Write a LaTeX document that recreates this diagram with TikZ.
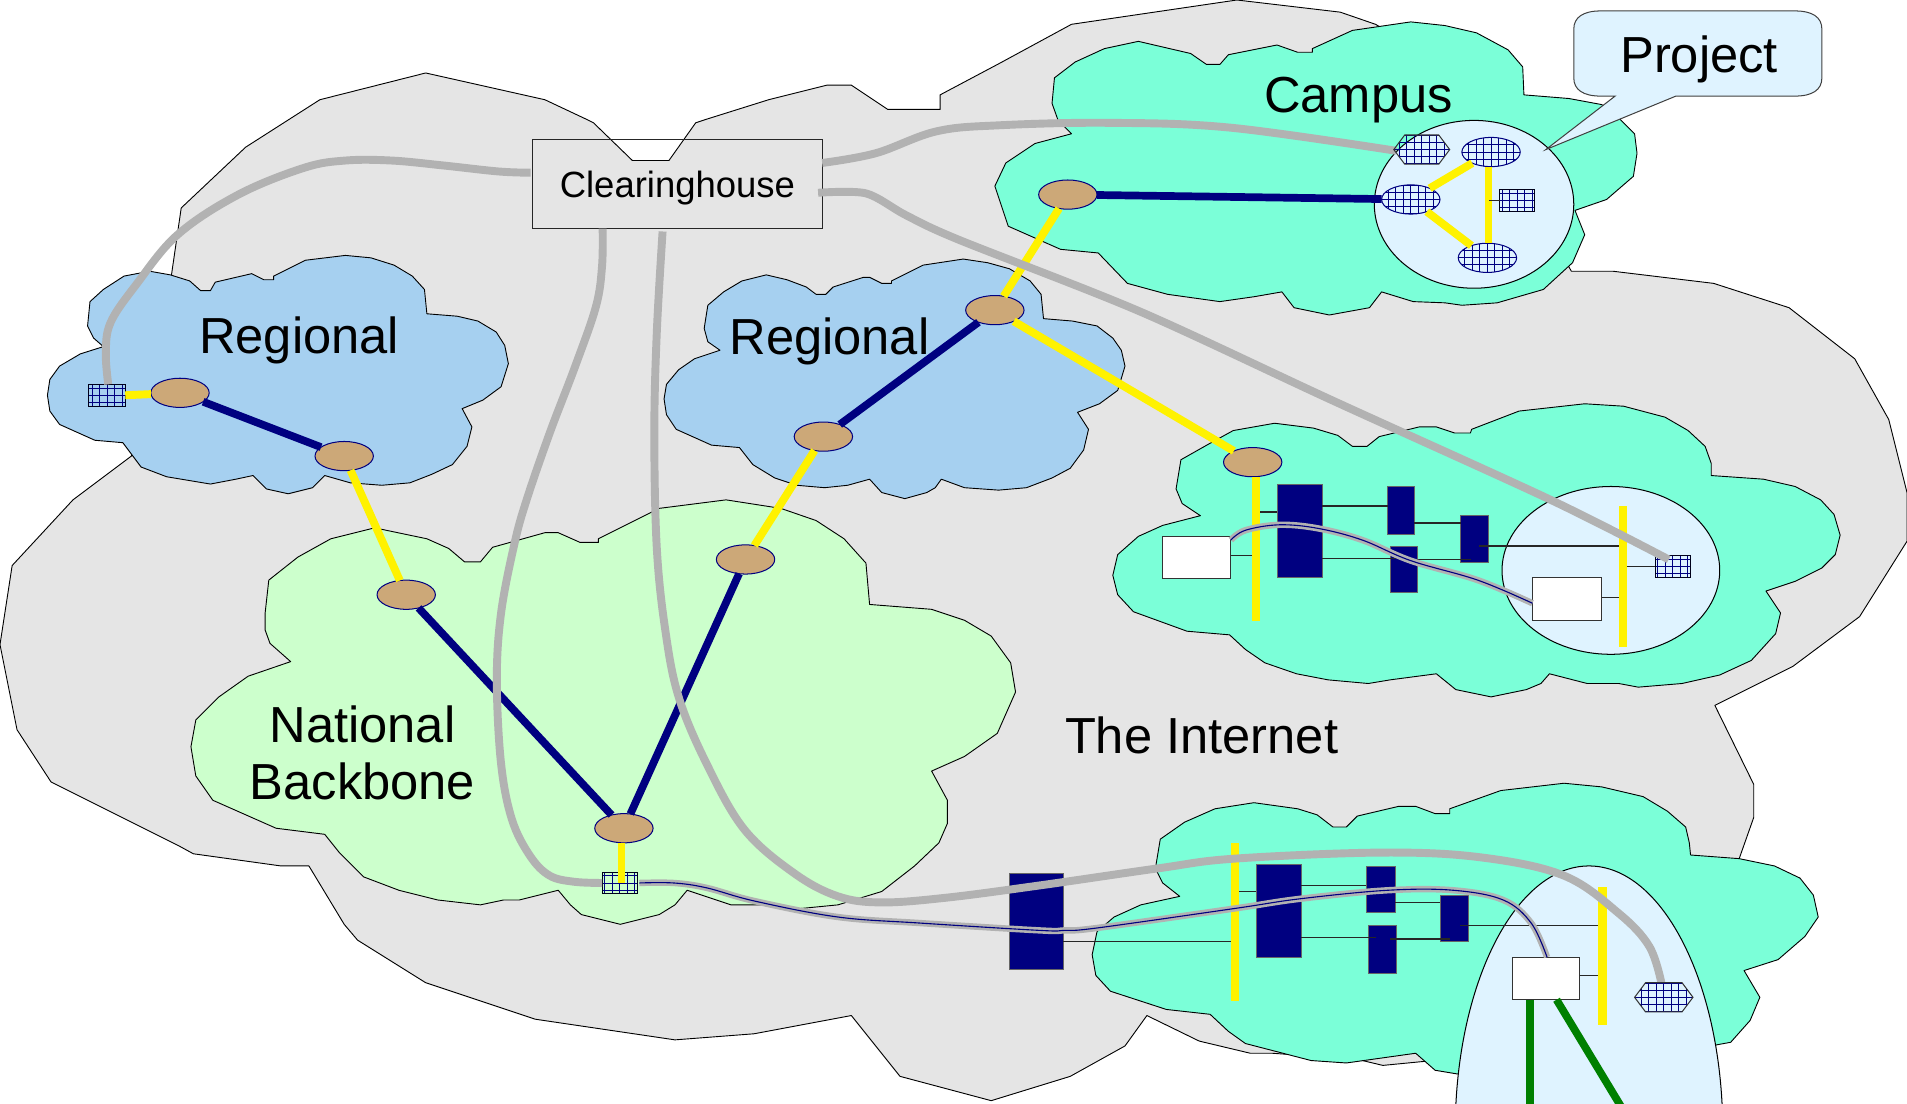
\documentclass[tikz,border=0pt]{standalone}
\usepackage{fontspec}
\setmainfont{Liberation Sans}
\definecolor{inetgray}{HTML}{E5E5E5}
\definecolor{campusgreen}{HTML}{7BFFD8}
\definecolor{regblue}{HTML}{A6D0F0}
\definecolor{natgreen}{HTML}{CCFFCC}
\definecolor{projblue}{HTML}{DFF3FF}
\definecolor{tan}{HTML}{CCA878}
\definecolor{navyc}{HTML}{000080}
\definecolor{wiregray}{HTML}{B2B2B2}
\definecolor{darkgreen}{HTML}{008000}
\tikzset{
  cloud outline/.style={draw=black,line width=0.45pt,line join=round},
  router/.style={shape=ellipse,draw=navyc,fill=tan,line width=0.5pt,minimum width=28.8pt,minimum height=14.4pt,inner sep=0pt,outer sep=0pt},
  gridfill/.style={path picture={
     \foreach \k in {-9,...,9}{
       \draw[navyc,line width=0.45pt] ([xshift=\k*3.7pt]path picture bounding box.center) ++(0,-20pt) -- ++(0,40pt);
       \draw[navyc,line width=0.45pt] ([yshift=\k*3.5pt]path picture bounding box.center) ++(-25pt,0) -- ++(50pt,0);
     }}},
  gridell/.style={shape=ellipse,draw=navyc,line width=0.5pt,minimum width=28.8pt,minimum height=14.4pt,inner sep=0pt,outer sep=0pt,gridfill},
  gridrect/.style={shape=rectangle,draw=black!80!navyc,line width=0.5pt,inner sep=0pt,outer sep=0pt,gridfill},
  navybox/.style={shape=rectangle,fill=navyc,draw=black!60,line width=0.3pt,inner sep=0pt,outer sep=0pt},
  whitebox/.style={shape=rectangle,fill=white,draw=black!80,line width=0.5pt,inner sep=0pt,outer sep=0pt},
  ybar/.style={shape=rectangle,fill=yellow,inner sep=0pt,outer sep=0pt},
  ylink/.style={draw=yellow,line width=3.9pt},
  nlink/.style={draw=navyc,line width=3.8pt},
  glink/.style={draw=darkgreen,line width=3.8pt},
  wire/.style={draw=wiregray,line width=3.9pt,line cap=butt},
  dualwire/.style={draw=wiregray,double=navyc,double distance=0.55pt,line width=1.3pt},
  thin link/.style={draw=black!85,line width=0.6pt},
  biglabel/.style={font=\fontsize{25}{28.2}\selectfont,align=center,inner sep=0pt},
}
\newcommand{\boxat}[6][navybox]{%
  \pgfmathsetmacro{\bxc}{(#3+#5)/2}\pgfmathsetmacro{\byc}{(#4+#6)/2}%
  \pgfmathsetmacro{\bxw}{(#5-#3)*0.6}\pgfmathsetmacro{\byh}{(#6-#4)*0.6}%
  \node[#1,minimum width=\bxw pt,minimum height=\byh pt] (#2) at (\bxc,\byc) {};}
\usetikzlibrary{shapes.geometric}
\begin{document}
\begin{tikzpicture}[x=0.6pt,y=-0.6pt]
\useasboundingbox (0,0) rectangle (1568,907);
% The Internet
\draw[cloud outline,fill=inetgray] (0,530) -- (10,465) -- (60,411) -- (108,375) -- (141,226) -- (149,171) -- (202,121) -- (263,82) -- (350,60) -- (448,82) -- (482,98) -- (488,101) -- (520,132) -- (550,132) -- (572,101) -- (581,98) -- (632,82) -- (680,70) -- (700,70) -- (730,90) -- (773,90) -- (773,78) -- (822,52) -- (881,20) -- (1017,0) -- (1102,10) -- (1131,20) -- (1200,60) -- (1292,223) -- (1326,223) -- (1409,233) -- (1471,253) -- (1525,295) -- (1553,345) -- (1568,405) -- (1568,445) -- (1529,507) -- (1474,548) -- (1410,580) -- (1442,645) -- (1442,672) -- (1430,706) -- (1400,800) -- (1200,870) -- (1168,873) -- (1137,876) -- (1116,871) -- (1046,866) -- (1028,866) -- (986,856) -- (943,835) -- (925,860) -- (880,885) -- (815,905) -- (740,885) -- (700,835) -- (620,850) -- (555,855) -- (440,838) -- (350,808) -- (294,773) -- (283,760) -- (254,712) -- (231,712) -- (159,702) -- (148,696) -- (42,643) -- (14,600) -- cycle;
% Regional clouds
\draw[cloud outline,fill=regblue] (74,248) -- (72,268) -- (77,278) -- (85,285) -- (66,291) -- (49,301) -- (41,312) -- (39,325) -- (41,338) -- (49,349) -- (78,362) -- (101,364) -- (116,384) -- (137,392) -- (173,398) -- (194,394) -- (208,391) -- (219,402) -- (237,406) -- (257,401) -- (267,391) -- (288,397) -- (314,399) -- (337,397) -- (355,390) -- (372,382) -- (384,367) -- (388,351) -- (380,336) -- (397,329) -- (412,318) -- (418,299) -- (415,284) -- (408,273) -- (393,264) -- (376,260) -- (351,258) -- (349,238) -- (339,227) -- (324,218) -- (305,212) -- (284,210) -- (251,214) -- (225,227) -- (225,230) -- (217,230) -- (207,225) -- (177,232) -- (173,239) -- (165,239) -- (156,231) -- (140,226) -- (123,223) -- (102,227) -- (85,238) -- cycle;
\draw[cloud outline,fill=regblue] (582,251) -- (579,270) -- (582,281) -- (592,288) -- (571,295) -- (558,304) -- (548,316) -- (546,328) -- (548,341) -- (556,353) -- (585,366) -- (608,368) -- (619,382) -- (637,393) -- (655,399) -- (678,401) -- (697,399) -- (715,394) -- (725,405) -- (744,410) -- (762,405) -- (769,401) -- (774,394) -- (793,401) -- (821,403) -- (844,401) -- (865,393) -- (880,385) -- (891,370) -- (895,353) -- (886,339) -- (904,332) -- (919,321) -- (925,301) -- (922,288) -- (915,278) -- (902,268) -- (882,264) -- (858,262) -- (856,242) -- (847,231) -- (830,221) -- (812,216) -- (792,213) -- (759,218) -- (733,231) -- (733,233) -- (725,233) -- (715,228) -- (710,228) -- (685,236) -- (679,242) -- (671,242) -- (663,236) -- (647,230) -- (630,226) -- (610,231) -- (595,240) -- cycle;
% National backbone
\draw[cloud outline,fill=natgreen] (221,477) -- (218,504) -- (218,518) -- (222,529) -- (239,544) -- (204,556) -- (180,573) -- (161,592) -- (157,614) -- (161,638) -- (175,658) -- (227,681) -- (267,686) -- (279,701) -- (299,721) -- (328,732) -- (360,740) -- (395,744) -- (414,740) -- (427,740) -- (459,732) -- (469,744) -- (478,752) -- (510,760) -- (542,752) -- (555,744) -- (565,732) -- (601,744) -- (626,744) -- (648,748) -- (689,744) -- (725,733) -- (752,712) -- (772,693) -- (779,677) -- (779,658) -- (766,634) -- (793,622) -- (820,603) -- (835,569) -- (831,545) -- (815,523) -- (793,510) -- (766,501) -- (715,497) -- (712,463) -- (694,443) -- (671,428) -- (642,418) -- (597,411) -- (542,418) -- (492,443) -- (492,446) -- (477,446) -- (459,438) -- (448,438) -- (405,450) -- (395,462) -- (382,462) -- (369,451) -- (351,443) -- (308,434) -- (272,443) -- (245,458) -- cycle;
% Campus clouds
\draw[cloud outline,fill=campusgreen] (867,64) -- (865,85) -- (870,99) -- (881,110) -- (851,118) -- (827,134) -- (818,153) -- (829,186) -- (872,205) -- (903,208) -- (927,233) -- (960,242) -- (1003,248) -- (1031,244) -- (1054,240) -- (1064,253) -- (1093,259) -- (1126,253) -- (1136,240) -- (1162,248) -- (1188,249) -- (1202,251) -- (1231,249) -- (1269,238) -- (1293,216) -- (1303,193) -- (1295,173) -- (1321,164) -- (1343,145) -- (1346,126) -- (1344,110) -- (1333,99) -- (1317,86) -- (1290,81) -- (1253,78) -- (1252,55) -- (1240,41) -- (1214,27) -- (1188,21) -- (1160,18) -- (1112,25) -- (1079,40) -- (1079,43) -- (1067,43) -- (1050,37) -- (1010,45) -- (1003,53) -- (992,53) -- (979,44) -- (936,34) -- (908,40) -- (884,51) -- cycle;
\draw[cloud outline,fill=campusgreen] (971,378) -- (967,402) -- (972,414) -- (987,424) -- (956,432) -- (936,441) -- (919,456) -- (915,473) -- (919,489) -- (932,503) -- (976,519) -- (1011,522) -- (1024,534) -- (1040,545) -- (1066,554) -- (1092,559) -- (1125,562) -- (1143,559) -- (1181,554) -- (1197,567) -- (1226,573) -- (1255,567) -- (1267,562) -- (1274,554) -- (1305,562) -- (1331,562) -- (1347,565) -- (1383,562) -- (1414,555) -- (1440,543) -- (1460,521) -- (1464,504) -- (1452,486) -- (1476,478) -- (1498,467) -- (1509,456) -- (1513,440) -- (1508,423) -- (1497,411) -- (1476,400) -- (1450,394) -- (1407,391) -- (1407,381) -- (1402,367) -- (1388,354) -- (1369,343) -- (1335,334) -- (1303,332) -- (1249,338) -- (1210,353) -- (1209,356) -- (1196,356) -- (1181,351) -- (1167,351) -- (1134,359) -- (1124,367) -- (1112,367) -- (1100,358) -- (1080,352) -- (1048,348) -- (1014,354) -- (994,365) -- cycle;
\draw[cloud outline,fill=campusgreen] (954,690) -- (950,714) -- (956,726) -- (970,737) -- (938,744) -- (916,754) -- (902,766) -- (898,785) -- (901,802) -- (913,815) -- (959,830) -- (995,834) -- (1010,848) -- (1024,858) -- (1078,872) -- (1107,874) -- (1164,866) -- (1180,880) -- (1198,883) -- (1300,890) -- (1412,859) -- (1423,857) -- (1439,839) -- (1447,820) -- (1434,798) -- (1462,789) -- (1484,770) -- (1495,754) -- (1491,736) -- (1480,722) -- (1459,712) -- (1430,706) -- (1390,703) -- (1389,693) -- (1386,680) -- (1371,667) -- (1351,655) -- (1317,647) -- (1286,644) -- (1234,650) -- (1192,665) -- (1192,669) -- (1180,669) -- (1164,663) -- (1150,663) -- (1116,671) -- (1107,680) -- (1096,680) -- (1083,670) -- (1067,665) -- (1031,660) -- (999,665) -- (974,676) -- cycle;
% Project areas
\node[shape=ellipse,draw=black,fill=projblue,line width=0.5pt,minimum width=98.4pt,minimum height=82.8pt,inner sep=0pt] (projA) at (1212,168) {};
\node[shape=ellipse,draw=black,fill=projblue,line width=0.5pt,minimum width=107.4pt,minimum height=82.8pt,inner sep=0pt] (projB) at (1324.5,469) {};
\begin{scope}
\clip (0,0) rectangle (1568,907);
\node[shape=ellipse,draw=black,fill=projblue,line width=0.5pt,minimum width=132pt,minimum height=261.6pt,inner sep=0pt] (projC) at (1306.5,930) {};
\end{scope}
% routers
\node[router] (r1) at (148,323) {};
\node[router] (r2) at (283,375) {};
\node[router] (r3) at (334,489) {};
\node[router] (r4) at (613,460) {};
\node[router] (r5) at (513,681) {};
\node[router] (r6) at (677,359) {};
\node[router] (r7) at (818,255) {};
\node[router] (r8) at (1030,380) {};
\node[router] (r9) at (878,160) {};
% project nodes in the top campus
\node[gridell] (ea) at (1226,125) {};
\node[gridell] (eb) at (1160,164) {};
\node[gridell] (ec) at (1223,212) {};
\boxat[gridrect]{ga}{1233}{156}{1262}{174}
\boxat[gridrect]{gb}{73}{316}{103}{334}
\boxat[gridrect]{gc}{495}{717}{524}{735}
\boxat[gridrect]{gd}{1361}{457}{1390}{475}
% links
\draw[ylink] (gb.east |- 0,325) -- (r1);
\draw[ylink] (r2) -- (r3);
\draw[ylink] (r4) -- (r6);
\draw[ylink] (r7) -- (r9);
\draw[ylink] (r7) -- (r8);
\draw[ylink] ([xshift=-1.2pt]r5.south) -- ([xshift=-1.2pt]r5.south |- gc.center);
\draw[ylink] (eb) -- (ea);
\draw[ylink] (eb) -- (ec);
\draw[ylink,line width=3.2pt] (ea.south -| 1224,0) -- (ec.north -| 1224,0);
\draw[nlink] (r1) -- (r2);
\draw[nlink] (r3) -- (r5);
\draw[nlink] (r5) -- (r4);
\draw[nlink] (r6) -- (r7);
\draw[nlink] (r9) -- (eb);
\draw[thin link] (ga.west) -- ++(-5.4pt,0);
% middle campus
\boxat[ybar]{ya}{1029.6}{392}{1036}{511}
\boxat{ma}{1050}{398}{1087}{475}
\boxat{mb}{1141}{400}{1163}{439}
\boxat{mc}{1143}{449}{1165}{487}
\boxat{md}{1201}{424}{1224}{462}
\boxat[whitebox]{wa}{956}{441}{1012}{476}
\boxat[whitebox]{wb}{1260}{475}{1317}{510}
\boxat[ybar]{yb}{1331}{416}{1337.6}{532}
\draw[thin link] (ya.east |- 0,421) -- (ma.west |- 0,421);
\draw[thin link] (ma.east |- 0,416) -- (mb.west |- 0,416);
\draw[thin link] (ma.east |- 0,459) -- ([xshift=2.4pt]mc.west |- 0,459);
\draw[thin link] (mb.east |- 0,430) -- (md.west |- 0,430);
\draw[thin link] (mc.south east |- 0,460) -- ([xshift=5pt]md.west |- 0,460);
\draw[thin link] ([xshift=9pt]md.west |- 0,449) -- (yb.west |- 0,449);
\draw[thin link] (wa.east |- 0,457) -- (ya.west |- 0,457);
\draw[thin link] (wb.east |- 0,491) -- (yb.west |- 0,491);
\draw[thin link] (yb.east |- gd.west) -- (gd.west);
% bottom campus
\boxat{na}{830}{718}{874}{797}
\boxat[ybar]{yc}{1012}{693}{1019}{823}
\boxat{nb}{1033}{711}{1070}{787}
\boxat{nc}{1123}{712}{1147}{750}
\boxat{nd}{1125}{761}{1148}{800}
\boxat{ne}{1184}{736}{1207}{774}
\boxat[whitebox]{wc}{1244}{787}{1299}{822}
\boxat[ybar]{yd}{1314}{729}{1321}{843}
\draw[thin link] (na.east |- 0,774) -- (yc.west |- 0,774);
\draw[thin link] (yc.east |- 0,733) -- (nb.west |- 0,733);
\draw[thin link] (nb.east |- 0,728) -- (nc.west |- 0,728);
\draw[thin link] (nb.east |- 0,771) -- ([xshift=3.6pt]nd.west |- 0,771);
\draw[thin link] (nc.east |- 0,742) -- (ne.west |- 0,742);
\draw[thin link] ([xshift=-3pt]nd.east |- 0,772) -- ([xshift=5pt]ne.west |- 0,772);
\draw[thin link] ([xshift=10pt]ne.west |- 0,761) -- (yd.west |- 0,761);
\draw[thin link] (wc.east |- 0,802) -- (yd.west |- 0,802);
% green links leaving the picture
\begin{scope}
\clip (0,0) rectangle (1568,907);
\coordinate (gl1) at (1258,915);
\coordinate (gl2) at (1336,915);
\draw[glink] (wc.south -| gl1) -- (gl1);
\draw[glink] ([xshift=5pt]wc.south) -- (gl2);
\end{scope}
% clearinghouse wires
\coordinate (hexa) at (1148,124);
\coordinate (hexb) at (1366,808);
\node[shape=rectangle,draw=black!85,line width=0.5pt,minimum width=142.8pt,minimum height=43.8pt,inner sep=0pt,outer sep=0pt,font=\fontsize{18}{20}\selectfont] (clear) at (557,151.5) {\raisebox{-1.8pt}[13pt][3.8pt]{Clearinghouse}};
\draw[wire] plot[smooth,tension=0.6] coordinates {([xshift=-1pt]clear.west |- 0,142) (410,141) (364,136) (322,132) (284,132) (250,138) (196,160) (146,193) (112,234) (91,265) (87,290) (gb.north -| 89,0)};
\draw[wire] plot[smooth,tension=0.6] coordinates {(clear.east |- 0,134) (720,126) (770,108) (822,103) (912,101) (1012,105) (hexa)};
\draw[wire] plot[smooth,tension=0.5] coordinates {([xshift=-2pt]clear.east |- 0,158.5) (712,159) (745,177) (788,197) (937,256) (1095,329) (1275,411) (1372,460)};
\draw[wire] plot[smooth,tension=0.6] coordinates {(clear.south -| 495.5,0) (495,219) (490,252) (473,301) (452,356) (433,411) (423,447) (412,504) (408.5,559) (412,628) (421,674) (436,704) (452,720) (472,725) (gc.west)};
\draw[wire] plot[smooth,tension=0.6] coordinates {([yshift=-1.4pt]clear.south -| 544.8,0) (540,274) (538,356) (540,450) (547,518) (558,573) (581,628) (612,682) (653,718) (689,737) (725,742) (779,738) (855,728) (952,714) (1015,706) (1137,701) (1218,705) (1286,720) (1331,751) (1356,778) (hexb)};
\draw[dualwire] plot[smooth,tension=0.6] coordinates {([xshift=1pt]gc.east) (554,726) (581,730) (621,741) (689,754) (757,759) (855,765) (875,765) (902,763) (1015,747) (1069,739) (1141,732) (1195,732) (1236,740) (1259,759) (wc.north -| 1272,0)};
\draw[dualwire] plot[smooth,tension=0.6] coordinates {(wa.east |- 0,444) (1024,436) (1052,431.5) (1084,434.5) (1120,444) (1160,461) (1215,477) (wb.west |- 0,496)};
% hexagons
\draw[draw=black!80,line width=0.5pt,gridfill] (1146,123) -- (1155,111) -- (1183,111) -- (1192,123) -- (1183,135) -- (1155,135) -- cycle;
\draw[draw=black!80,line width=0.5pt,gridfill] (1344,820) -- (1353,808) -- (1383,808) -- (1392,820) -- (1383,832) -- (1353,832) -- cycle;
% callout
\draw[draw=black!75,fill=projblue,line width=0.5pt] (1316,9) -- (1476,9) .. controls (1490,9) and (1498,14) .. (1498,24) -- (1498,64) .. controls (1498,74) and (1490,79) .. (1476,79) -- (1378,79) -- (1271,123) -- (1328,79) -- (1316,79) .. controls (1302,79) and (1294,74) .. (1294,64) -- (1294,24) .. controls (1294,14) and (1302,9) .. (1316,9) -- cycle;
% labels
\node[biglabel] (lproj) at (1397,49) {Project};
\node[biglabel] (lcamp) at (1117,82) {Campus};
\node[biglabel] (lreg1) at (246,280) {Regional};
\node[biglabel] (lreg2) at (682,281) {Regional};
\node[biglabel] (lnat) at (298,619) {National\\Backbone};
\node[biglabel] (lnet) at (988,605) {The Internet};
\end{tikzpicture}
\end{document}
